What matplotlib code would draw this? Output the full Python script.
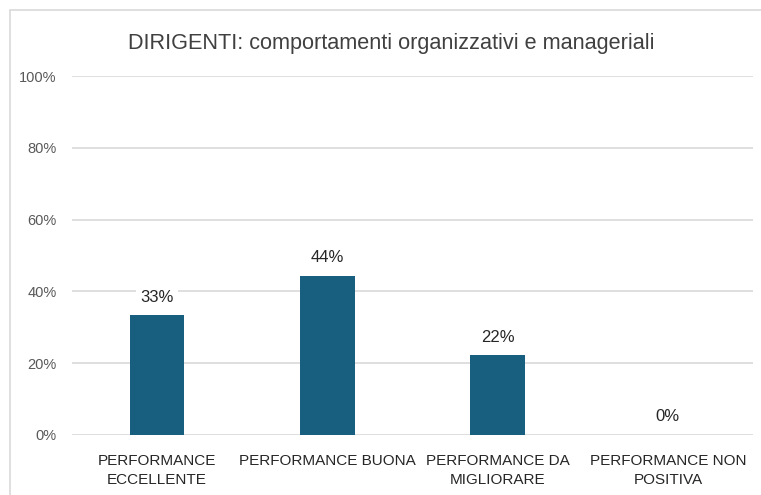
import matplotlib
matplotlib.use("Agg")
import matplotlib.pyplot as plt
from matplotlib.patches import Rectangle

categories = ["PERFORMANCE\nECCELLENTE", "PERFORMANCE BUONA", "PERFORMANCE DA\nMIGLIORARE", "PERFORMANCE NON\nPOSITIVA"]
values = [33.3, 44.4, 22.2, 0.0]
labels = ["33%", "44%", "22%", "0%"]
yticks = [0, 20, 40, 60, 80, 100]
title = "DIRIGENTI: comportamenti organizzativi e manageriali"

plt.rcParams['font.family'] = ['Liberation Sans', 'DejaVu Sans']

fig = plt.figure(figsize=(7.61, 4.95), dpi=100)
fig.patches.append(Rectangle((10/761, -0.1), 1.2, 1 - 10/495 + 0.1, transform=fig.transFigure,
                             fill=False, edgecolor="#d9d9d9", linewidth=1.2, zorder=0))
ax = fig.add_axes([72/761, 1 - 435/495, (753 - 72)/761, (435 - 76)/495])

x = list(range(len(categories)))
bars = ax.bar(x, values, width=0.32, color="#175E7F", zorder=3)
for xi, v, lab in zip(x, values, labels):
    ax.text(xi, v + 3.0, lab, ha="center", va="bottom", fontsize=12, color="#262626", zorder=4,
            bbox=dict(boxstyle="square,pad=0.25", facecolor="white", edgecolor="none"))

ax.set_xlim(-0.5, 3.5)
ax.set_ylim(0, 100)
ax.set_yticks(yticks)
ax.set_yticklabels([f"{t}%" for t in yticks], fontsize=10.5, color="#595959")
ax.set_xticks(x)
ax.set_xticklabels(categories, fontsize=11, color="#262626", linespacing=1.45)
ax.tick_params(axis="both", length=0)
ax.tick_params(axis="x", pad=14)
ax.tick_params(axis="y", pad=11)
ax.grid(axis="y", color="#d9d9d9", linewidth=1.2, zorder=0)
for s in ax.spines.values():
    s.set_visible(False)

fig.text(391/761, 1 - 43/495, title, ha="center", va="center", fontsize=15.6, color="#404040")

fig.savefig("out.png", dpi=100)
